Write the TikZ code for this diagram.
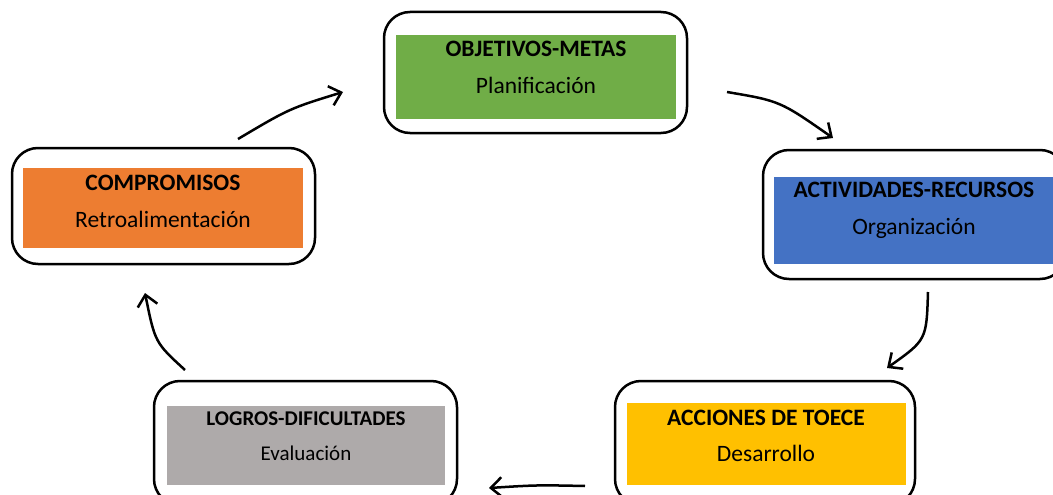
\documentclass[tikz,border=0pt]{standalone}
\usepackage{fontspec}
\setmainfont{Carlito}
\usetikzlibrary{arrows.meta}
\definecolor{cgreen}{HTML}{70AD47}
\definecolor{corange}{HTML}{ED7D31}
\definecolor{cblue}{HTML}{4472C4}
\definecolor{cgray}{HTML}{AEAAAA}
\definecolor{cyellow}{HTML}{FFC000}
\begin{document}
\begin{tikzpicture}[x=1pt,y=-1pt,
  outerbox/.style={draw=black, line width=2.5pt, rounded corners=26pt, fill=white, inner sep=0pt, minimum width=303pt, minimum height=#1},
  innerbox/.style={fill=#1, draw=none, inner sep=0pt, minimum width=280pt, minimum height=84pt},
  ttl/.style={anchor=base, inner sep=0pt, font=\fontsize{23.5}{28}\selectfont\bfseries},
  sub/.style={anchor=base, inner sep=0pt, font=\fontsize{23.5}{28}\selectfont},
  ttls/.style={anchor=base, inner sep=0pt, font=\fontsize{21}{25}\selectfont\bfseries},
  subs/.style={anchor=base, inner sep=0pt, font=\fontsize{21}{25}\selectfont},
  cyc/.style={draw=black, line width=2.5pt, -{Straight Barb[length=11pt,width=20pt]}}]
\useasboundingbox (0,0) rectangle (1053,495);
\clip (0,0) rectangle (1053,495);
\fill[white] (0,0) rectangle (1053,495);
% top
\node[outerbox=121pt] (ob1) at (535.5,72.5) {};
\node[innerbox=cgreen] (ib1) at (536,77) {};
\node[ttl] (t1) at (536,57) {OBJETIVOS-METAS};
\node[sub] (s1) at (536,93) {Planificación};
% right
\node[outerbox=129pt] (ob2) at (914.5,214.5) {};
\node[innerbox=cblue, minimum height=87pt] (ib2) at (914,220.5) {};
\node[ttl] (t2) at (914,197) {ACTIVIDADES-RECURSOS};
\node[sub] (s2) at (914,234) {Organización};
% bottom right
\node[outerbox=124pt, minimum width=300pt] (ob3) at (765,443) {};
\node[innerbox=cyellow, minimum width=279pt, minimum height=82pt] (ib3) at (766.5,444) {};
\node[ttl] (t3) at (766,425) {ACCIONES DE TOECE};
\node[sub] (s3) at (766,461) {Desarrollo};
% bottom left
\node[outerbox=124pt] (ob4) at (305.5,443) {};
\node[innerbox=cgray, minimum width=278pt, minimum height=79pt] (ib4) at (306,445.5) {};
\node[ttls] (t4) at (306,425) {LOGROS-DIFICULTADES};
\node[subs] (s4) at (306,460) {Evaluación};
% left
\node[outerbox=116pt] (ob5) at (163.5,206) {};
\node[innerbox=corange, minimum height=80pt] (ib5) at (163,208) {};
\node[ttl] (t5) at (163,190) {COMPROMISOS};
\node[sub] (s5) at (163,227) {Retroalimentación};
% arrows
\coordinate (a1s) at (727,92);  \coordinate (a1e) at (833,138);
\coordinate (a2s) at (928,292); \coordinate (a2e) at (887,368);
\coordinate (a3s) at (585,486); \coordinate (a3e) at (489,488);
\coordinate (a4s) at (185,370); \coordinate (a4e) at (145,293);
\coordinate (a5s) at (238,139); \coordinate (a5e) at (343,92);
\draw[cyc] (a1s) .. controls (780,101) .. (a1e);
\draw[cyc] (a2s) .. controls (926.5,340) .. (a2e);
\draw[cyc] (a3s) .. controls (537,485) .. (a3e);
\draw[cyc] (a4s) .. controls (155,342.5) .. (a4e);
\draw[cyc] (a5s) .. controls (289.5,108.5) .. (a5e);
\end{tikzpicture}
\end{document}
